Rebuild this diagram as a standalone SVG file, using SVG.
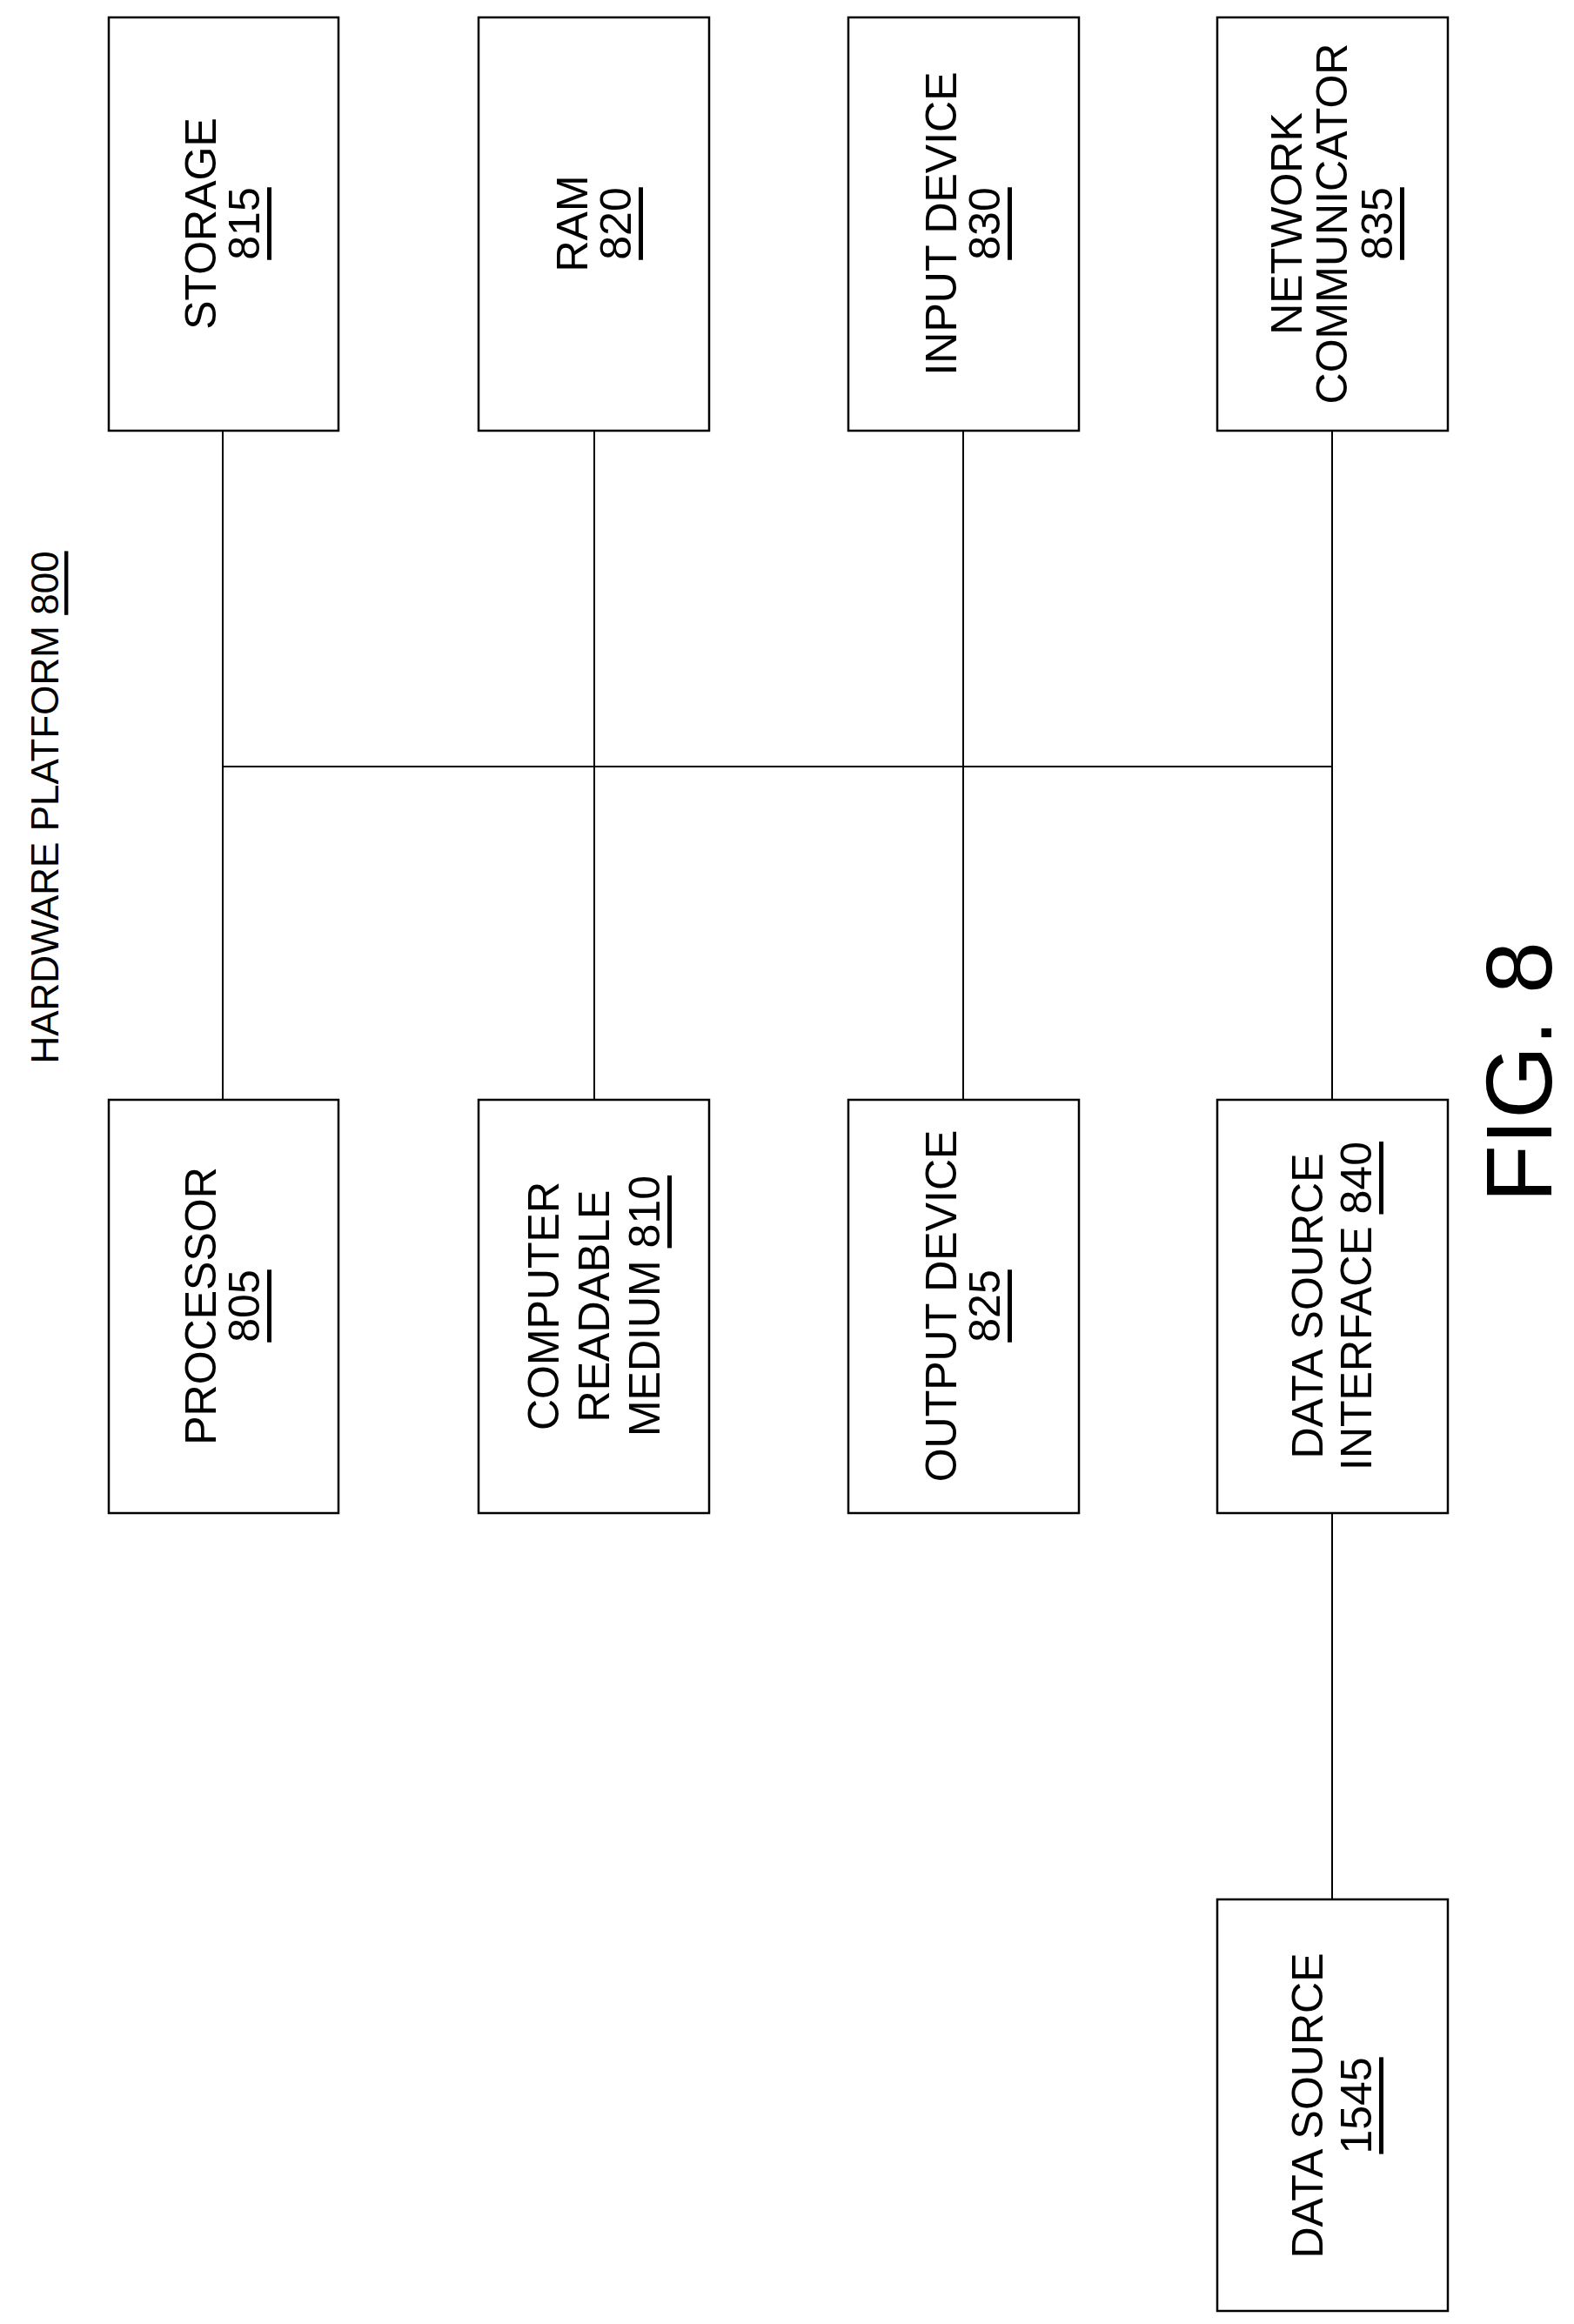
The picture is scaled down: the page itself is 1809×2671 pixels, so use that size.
<svg xmlns="http://www.w3.org/2000/svg" width="1809" height="2671" viewBox="0 0 1809 2671">
<style>
.box{fill:#fff;stroke:#000;stroke-width:2.5}
.ln{stroke:#000;stroke-width:2;fill:none}
text{font-family:"Liberation Sans",Arial,sans-serif;font-size:50px;fill:#000;text-anchor:middle;dominant-baseline:central}
.u{text-decoration:underline}
</style>
<rect width="1809" height="2671" fill="#fff"/>
<g id="connectors">
<line class="ln" x1="256" y1="495" x2="256" y2="1264"/>
<line class="ln" x1="683" y1="495" x2="683" y2="1264"/>
<line class="ln" x1="1107" y1="495" x2="1107" y2="1264"/>
<line class="ln" x1="1531" y1="495" x2="1531" y2="1264"/>
<line class="ln" x1="256" y1="881" x2="1531" y2="881"/>
<line class="ln" x1="1531" y1="1739" x2="1531" y2="2183"/>
</g>
<g id="title"><text transform="translate(51,928) rotate(-90)" style="font-size:44px">HARDWARE PLATFORM <tspan class="u">800</tspan></text></g>
<g id="storage"><rect class="box" x="125" y="20" width="264" height="475"/>
<text transform="translate(256,257) rotate(-90)"><tspan x="0" y="-25">STORAGE</tspan><tspan x="0" y="25" class="u">815</tspan></text></g>
<g id="ram"><rect class="box" x="550" y="20" width="265" height="475"/>
<text transform="translate(683,257) rotate(-90)"><tspan x="0" y="-25">RAM</tspan><tspan x="0" y="25" class="u">820</tspan></text></g>
<g id="input"><rect class="box" x="975" y="20" width="265" height="475"/>
<text transform="translate(1107,257) rotate(-90)"><tspan x="0" y="-25">INPUT DEVICE</tspan><tspan x="0" y="25" class="u">830</tspan></text></g>
<g id="network"><rect class="box" x="1399" y="20" width="265" height="475"/>
<text transform="translate(1531,257) rotate(-90)"><tspan x="0" y="-52">NETWORK</tspan><tspan x="0" y="0">COMMUNICATOR</tspan><tspan x="0" y="52" class="u">835</tspan></text></g>
<g id="processor"><rect class="box" x="125" y="1264" width="264" height="475"/>
<text transform="translate(256,1501) rotate(-90)"><tspan x="0" y="-25">PROCESSOR</tspan><tspan x="0" y="25" class="u">805</tspan></text></g>
<g id="crm"><rect class="box" x="550" y="1264" width="265" height="475"/>
<text transform="translate(683,1501) rotate(-90)"><tspan x="0" y="-58">COMPUTER</tspan><tspan x="0" y="0">READABLE</tspan><tspan x="0" y="58">MEDIUM <tspan class="u">810</tspan></tspan></text></g>
<g id="output"><rect class="box" x="975" y="1264" width="265" height="475"/>
<text transform="translate(1107,1501) rotate(-90)"><tspan x="0" y="-25">OUTPUT DEVICE</tspan><tspan x="0" y="25" class="u">825</tspan></text></g>
<g id="dsi"><rect class="box" x="1399" y="1264" width="265" height="475"/>
<text transform="translate(1531,1501) rotate(-90)"><tspan x="0" y="-28">DATA SOURCE</tspan><tspan x="0" y="28">INTERFACE <tspan class="u">840</tspan></tspan></text></g>
<g id="datasource"><rect class="box" x="1399" y="2183" width="265" height="473"/>
<text transform="translate(1531,2420) rotate(-90)"><tspan x="0" y="-28">DATA SOURCE</tspan><tspan x="0" y="28" class="u">1545</tspan></text></g>
<g id="fig"><text transform="translate(1745,1232) rotate(-90)" style="font-size:108px">FIG. 8</text></g>
</svg>
